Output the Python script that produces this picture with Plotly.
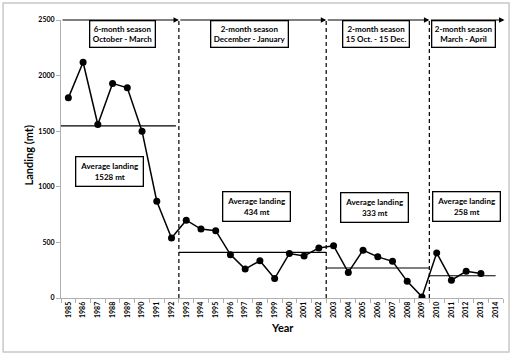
import plotly.graph_objects as go

years = list(range(1985, 2014))
landing = [1800, 2120, 1560, 1930, 1890, 1500, 870, 540, 700, 620, 605, 390,
           260, 335, 175, 400, 378, 450, 470, 230, 430, 370, 330, 150, 10,
           405, 160, 240, 220]
axis_years = list(range(1985, 2015))

period_starts = [1984.5, 1992.5, 2002.5, 2009.5]
period_ends = [1992.5, 2002.5, 2009.5, 2014.6]
avg_line_ends = [1992.3, 2002.5, 2009.5, 2014.0]
avg_levels = [1547, 410, 270, 200]
season_labels = ["6-month season<br>October - March",
                 "2-month season<br>December - January",
                 "2-month season<br>15 Oct. - 15 Dec.",
                 "2-month season<br>March - April"]
season_label_x = [1988.7, 1997.3, 2005.9, 2011.8]
avg_labels = ["Average landing<br>1528 mt", "Average landing<br>434 mt",
              "Average landing<br>333 mt", "Average landing<br>258 mt"]
avg_label_x = [1987.8, 1997.8, 2005.8, 2012.0]
avg_label_y = [1136, 820, 810, 820]

FONT = "Lato, Open Sans, sans-serif"

fig = go.Figure()
fig.add_trace(go.Scatter(x=years, y=landing, mode="lines+markers",
                         line=dict(color="black", width=1.5),
                         marker=dict(color="black", size=7),
                         showlegend=False, hoverinfo="skip"))

# average lines
for s, e, v in zip(period_starts, avg_line_ends, avg_levels):
    fig.add_shape(type="line", x0=s, x1=e, y0=v, y1=v, xref="x", yref="y",
                  line=dict(color="black", width=1.2))

# dashed dividers
for b in period_starts[1:]:
    fig.add_shape(type="line", x0=b, x1=b, y0=0, y1=2500, xref="x", yref="y",
                  line=dict(color="black", width=1.2, dash="4px,3px"))

annotations = []
# top arrows
for s, e in zip(period_starts, period_ends):
    annotations.append(dict(x=e, y=2500, ax=s, ay=2500, xref="x", yref="y",
                            axref="x", ayref="y", showarrow=True, arrowhead=2,
                            arrowsize=0.9, arrowwidth=1.2, arrowcolor="black",
                            text=""))
# season boxes
for t, x in zip(season_labels, season_label_x):
    annotations.append(dict(x=x, y=2500, xref="x", yref="y", yanchor="top",
                            text="<b>" + t + "</b>", showarrow=False,
                            font=dict(family=FONT, size=8, color="black"),
                            bgcolor="white", bordercolor="black", borderwidth=1.3,
                            borderpad=2.5))
# average boxes
for t, x, y in zip(avg_labels, avg_label_x, avg_label_y):
    annotations.append(dict(x=x, y=y, xref="x", yref="y",
                            text="<b>" + t + "</b>", showarrow=False,
                            font=dict(family=FONT, size=8, color="black"),
                            bgcolor="white", bordercolor="black", borderwidth=1.3,
                            borderpad=4))
# axis titles
annotations.append(dict(x=0.502, y=-0.137, xref="paper", yref="paper",
                        text="<b>Year</b>", showarrow=False,
                        font=dict(family=FONT, size=11, color="black")))
annotations.append(dict(x=-0.093, y=0.514, xref="paper", yref="paper",
                        text="<b>Landing (mt)</b>", showarrow=False, textangle=-90,
                        font=dict(family=FONT, size=11, color="black")))

# outer frame
fig.add_shape(type="rect", xref="paper", yref="paper",
              x0=-0.131, x1=1.0136, y0=-0.194, y1=1.061,
              line=dict(color="#c8c8c8", width=1.5))

fig.update_layout(
    width=512, height=357,
    margin=dict(l=61, r=9, t=20, b=59),
    paper_bgcolor="white", plot_bgcolor="white",
    annotations=annotations,
    font=dict(family=FONT, color="black"),
)
fig.update_xaxes(range=[1984.5, 2014.5], tickmode="array", tickvals=axis_years,
                 ticktext=["<b>%d</b>" % y for y in axis_years], tickangle=-90,
                 tickfont=dict(family=FONT, size=7, color="black"),
                 showgrid=False, zeroline=False, showline=True,
                 linecolor="#b0b0b0", linewidth=1, ticks="",
                 minor=dict(ticks="outside", tick0=1984.5, dtick=1, ticklen=4,
                            tickcolor="#b0b0b0"))
fig.update_yaxes(range=[0, 2500], tickvals=[0, 500, 1000, 1500, 2000, 2500],
                 ticktext=["<b>%d</b>" % v for v in [0, 500, 1000, 1500, 2000, 2500]],
                 tickfont=dict(family=FONT, size=7, color="black"),
                 showgrid=False, zeroline=False, showline=True,
                 linecolor="#b0b0b0", linewidth=1, ticks="outside", ticklen=4,
                 tickcolor="#b0b0b0")

fig.write_html("out.html", config={"displayModeBar": False},
               post_script="document.body.style.margin='0';document.body.style.overflow='hidden';")
